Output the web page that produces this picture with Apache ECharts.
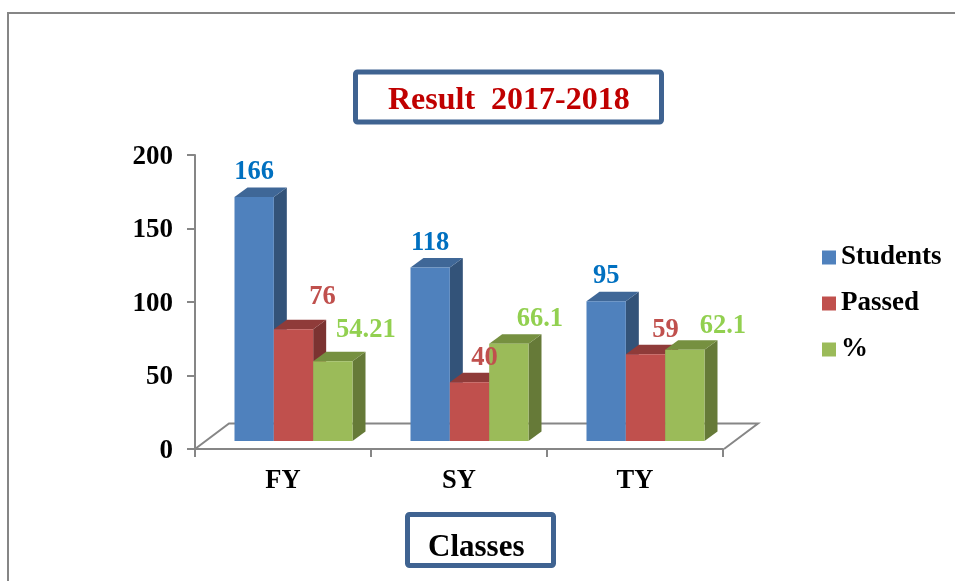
<!DOCTYPE html>
<html><head><meta charset="utf-8">
<style>html,body{margin:0;padding:0;background:#fff}#c{width:955px;height:581px}</style>
<script src="https://cdn.jsdelivr.net/npm/echarts@6/dist/echarts.min.js"></script>
</head><body><div id="c"></div>
<script>
const categories = ['FY', 'SY', 'TY'];
const students = [166, 118, 95];
const passed = [76, 40, 59];
const percent = [54.21, 66.1, 62.1];
const yTicks = [0, 50, 100, 150, 200];

const SERIF = '"Liberation Serif","Times New Roman",serif';
const AXIS = '#868686', FRAME = '#3F6391';
const looks = [
  {name:'Students', values:students, front:'#4F81BD', top:'#3F6797', side:'#335379', text:'#0070C0', nudge:[[0,-25],[0,-24],[0,-25]]},
  {name:'Passed',   values:passed,   front:'#C0504D', top:'#8F3B39', side:'#7B3331', text:'#C0504D', nudge:[[29,-32],[15,-24],[20,-24]]},
  {name:'%',        values:percent,  front:'#9BBB59', top:'#769040', side:'#667A38', text:'#92D050', nudge:[[33,-31],[31,-25],[38,-24]]}
];
const depthX = 13, depthY = 9.5, lift = 8, shiftX = 10.5;

function barBox(seriesIndex, api) {
  const i = api.value(0), v = api.value(1);
  const w = api.size([1, 0])[0] * 0.2235;
  const c = api.coord([i, v]), zero = api.coord([i, 0]);
  return {i, v, w, x: c[0] + shiftX - 1.5 * w + seriesIndex * w, y: c[1] - lift, b: zero[1] - lift};
}
function barRenderer(k, look) {
  return function (params, api) {
    const {w, x, y, b} = barBox(k, api);
    return {type:'group', children:[
      {type:'polygon', shape:{points:[[x+w,y],[x+w+depthX,y-depthY],[x+w+depthX,b-depthY],[x+w,b]]}, style:{fill:look.side}},
      {type:'polygon', shape:{points:[[x,y],[x+w,y],[x+w+depthX,y-depthY],[x+depthX,y-depthY]]}, style:{fill:look.top}},
      {type:'rect', shape:{x:x, y:y, width:w, height:b-y}, style:{fill:look.front}}
    ]};
  };
}
function labelRenderer(k, look) {
  return function (params, api) {
    const {i, v, w, x, y} = barBox(k, api);
    const n = look.nudge[i];
    return {type:'text', style:{text:String(v), x:x+w/2+n[0], y:y+n[1], align:'center', verticalAlign:'middle',
      fill:look.text, font:'bold 26.5px '+SERIF}};
  };
}

const chart = echarts.init(document.getElementById('c'), null, {renderer:'canvas'});
const toData = l => l.values.map((v,i)=>[i,v]);
chart.setOption({
  animation:false,
  backgroundColor:'#fff',
  title:[
    {text:'Result  2017-2018', left:355.5, top:72.5, padding:[13,32,5.5,32.5], borderColor:FRAME, borderWidth:5, borderRadius:2,
      textStyle:{fontFamily:SERIF, fontWeight:'bold', fontSize:32, color:'#C00000', lineHeight:30}},
    {text:'Classes', left:407.5, top:514.5, padding:[18.5,29.5,2.5,20.5], borderColor:FRAME, borderWidth:5, borderRadius:2,
      textStyle:{fontFamily:SERIF, fontWeight:'bold', fontSize:31, color:'#000', lineHeight:30}}
  ],
  legend:{orient:'vertical', left:817, top:239, itemWidth:14, itemHeight:14, itemGap:19, icon:'rect',
    data:looks.map(l=>l.name), selectedMode:false,
    textStyle:{fontFamily:SERIF, fontWeight:'bold', fontSize:27, color:'#000', lineHeight:26}},
  grid:{left:195, top:155, width:528, height:294, containLabel:false},
  xAxis:{type:'category', data:categories, boundaryGap:true,
    axisLine:{lineStyle:{color:AXIS, width:2}},
    axisTick:{show:true, length:8, alignWithLabel:false, lineStyle:{color:AXIS, width:2}},
    axisLabel:{margin:19, fontFamily:SERIF, fontWeight:'bold', fontSize:26.5, color:'#000'},
    splitLine:{show:false}},
  yAxis:{type:'value', min:yTicks[0], max:yTicks[yTicks.length-1], interval:50,
    axisLine:{show:true, lineStyle:{color:AXIS, width:2}},
    axisTick:{show:true, length:8, lineStyle:{color:AXIS, width:2}},
    axisLabel:{margin:22, verticalAlign:'top', lineHeight:4, fontFamily:SERIF, fontWeight:'bold', fontSize:27, color:'#000'},
    splitLine:{show:false}},
  series:looks.map((l,k)=>({
    type:'custom', name:l.name, clip:false, silent:true, z:2,
    coordinateSystem:'cartesian2d', itemStyle:{color:l.front}, encode:{x:0, y:1},
    data:toData(l), renderItem:barRenderer(k,l)
  })).concat(looks.map((l,k)=>({
    type:'custom', name:l.name+' labels', clip:false, silent:true, z:5,
    coordinateSystem:'cartesian2d', encode:{x:0, y:1},
    data:toData(l), renderItem:labelRenderer(k,l)
  }))),
  graphic:[
    {type:'polyline', silent:true, z:-1, shape:{points:[[8,581],[8,13],[955,13]]}, style:{stroke:AXIS, lineWidth:2, fill:null}},
    {type:'polyline', silent:true, z:-1, shape:{points:[[195,449],[229,423.5],[758,423.5],[724,449]]}, style:{stroke:AXIS, lineWidth:2, fill:null}}
  ]
});
</script></body></html>
